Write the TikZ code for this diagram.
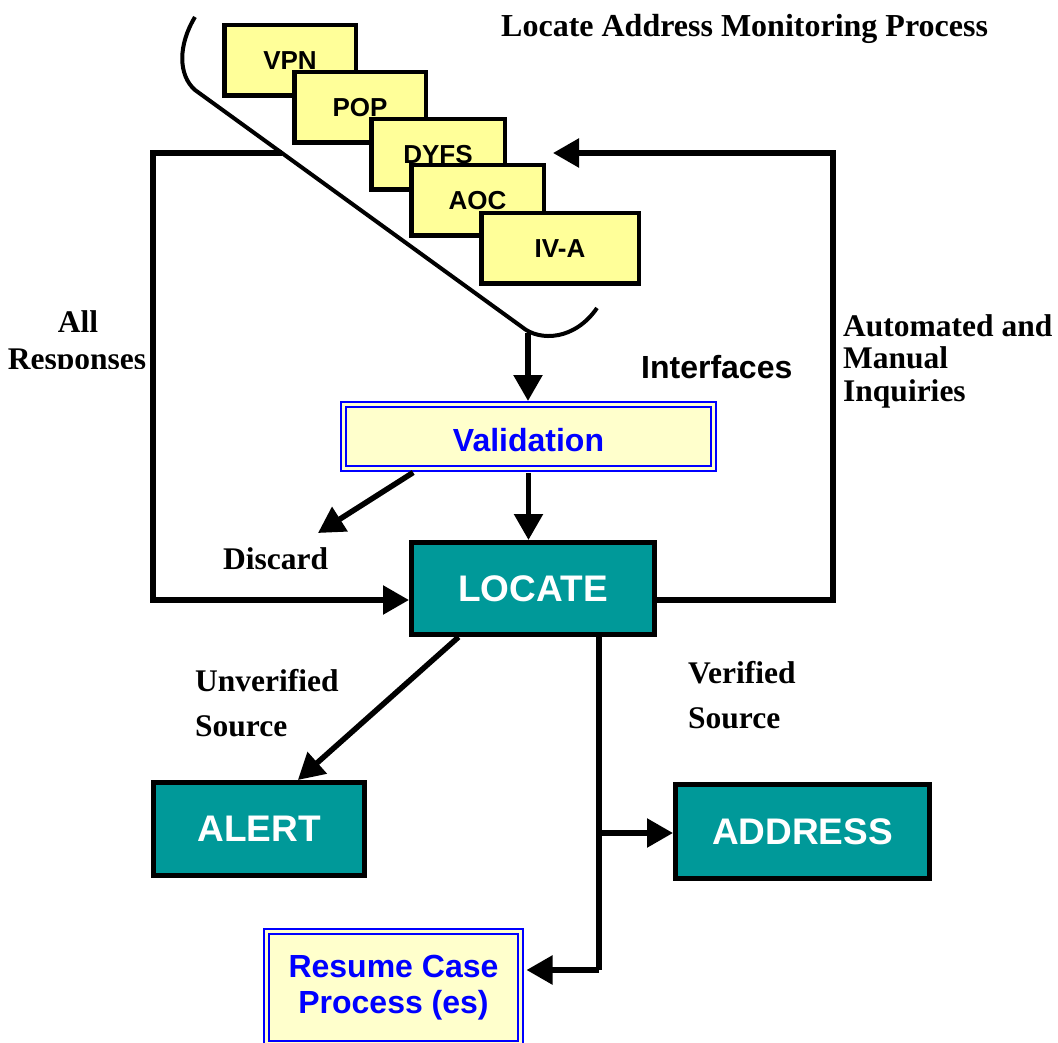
\documentclass[tikz,border=0pt]{standalone}
\usepackage{fontspec}
\setmainfont{Liberation Serif}
\newfontfamily\arialfam{Liberation Sans}
\usetikzlibrary{arrows.meta,calc}
\definecolor{stackyellow}{HTML}{FFFF99}
\definecolor{paleyellow}{HTML}{FFFFCC}
\definecolor{tealfill}{HTML}{009999}
\begin{document}
\begin{tikzpicture}[x=1pt,y=-1pt,
  stackbox/.style={draw, line width=4.5pt, fill=stackyellow, minimum height=70.5pt,
    inner sep=0pt, font=\arialfam\bfseries\fontsize{26}{30}\selectfont},
  tealbox/.style={draw, line width=5pt, fill=tealfill, text=white, inner sep=0pt,
    font=\arialfam\bfseries\fontsize{37}{40}\selectfont},
  framebox/.style={draw=blue, line width=2pt, double=paleyellow, double distance=3pt,
    fill=paleyellow, text=blue, inner sep=0pt, align=center,
    font=\arialfam\bfseries\fontsize{32}{36}\selectfont},
  lbl/.style={inner sep=0pt, font=\bfseries\fontsize{31.5}{35}\selectfont},
  sanslbl/.style={inner sep=0pt, font=\arialfam\bfseries\fontsize{32}{36}\selectfont},
  conn/.style={line width=5.5pt},
  arr/.style={conn, -{Triangle[length=26pt,width=28pt]}},
  bracket/.style={line width=4pt}]

\clip (0,0) rectangle (1058,1043);

% title
\node[lbl, font=\bfseries\fontsize{32}{36}\selectfont, anchor=base west] (title) at (501,37)
  {Locate Address Monitoring Process};

% stacked interface systems
\node[stackbox, minimum width=131.5pt] (vpn)  at (290,60.5)   {VPN};
\node[stackbox, minimum width=131.5pt] (pop)  at (360,107.5)  {POP};
\node[stackbox, minimum width=133.5pt] (dyfs) at (438,154.5)  {DYFS};
\node[stackbox, minimum width=132.5pt] (aoc)  at (477.5,200.5){AOC};
\node[stackbox, minimum width=157.5pt] (iva)  at (560,248.5)  {IV-A};

% process boxes
\node[framebox, minimum width=370pt, minimum height=64pt] (valid) at (528.5,436.5) {};
\node[framebox, draw=none, fill=none, double=none] (validtext) at (528.5,440.5) {Validation};
\node[tealbox, minimum width=243pt, minimum height=92pt] (locate) at (533,588.5) {LOCATE};
\node[tealbox, minimum width=211pt, minimum height=93pt] (alert) at (259,829) {ALERT};
\node[tealbox, minimum width=254pt, minimum height=94pt] (address) at (802.5,831.5) {ADDRESS};
\node[framebox, minimum width=254pt, minimum height=112pt] (resume) at (393.5,987.5)
  {Resume Case\\Process (es)};

% helper points of the connectors
\coordinate (resp) at (282,153);
\coordinate (lcorner) at (153,153);
\coordinate (rcorner) at (833,153);
\coordinate (inqtip) at (553,153);
\coordinate (ifc) at (528,333);
\coordinate (discardtip) at (318,533);
\coordinate (split) at (599,833);
\coordinate (turn) at (599,970);

% feedback loops
\draw[arr] (resp) -- (lcorner) |- ([yshift=-11.5pt]locate.west);
\draw[arr] ([yshift=-11.5pt]locate.east) -| (rcorner) -- (inqtip);

% interface bracket
\draw[bracket] (195,17) .. controls (178,45) and (178,75) .. (195,90)
  -- (522,327) .. controls (540,342) and (575,340) .. (597,308);

% main flow
\draw[arr] (ifc) -- ($(ifc |- valid.north)+(0,-2.5)$);
\draw[arr] ([yshift=-3pt]valid.south) -- (valid.south |- locate.north);
\draw[arr] ($($(valid.south west)!0.19!(valid.south east)$)+(0,3)$) -- (discardtip);
\draw[arr] ($(locate.south west)!0.2!(locate.south east)$)
  -- ($(alert.north west)!0.68!(alert.north east)$);
\draw[conn] (locate.south -| turn) -- (turn);
\draw[arr] (turn) -- ($(resume.east |- turn)+(5,0)$);
\draw[arr] (split) -- (split -| address.west);

% labels
\node[lbl, anchor=base] (allr) at (78,332) {All};
\begin{scope}
  \clip (0,300) rectangle (200,368);
  \node[lbl, anchor=base] (responses) at (77,369) {Responses};
\end{scope}
\node[lbl, anchor=base west] (auto1) at (843,336) {Automated and};
\node[lbl, anchor=base west] (auto2) at (843,368) {Manual};
\node[lbl, anchor=base west] (auto3) at (843,401) {Inquiries};
\node[sanslbl, anchor=base west] (interfaces) at (641,378) {Interfaces};
\node[lbl, anchor=base west] (discard) at (223,569) {Discard};
\node[lbl, anchor=base west] (unver1) at (195,691) {Unverified};
\node[lbl, anchor=base west] (unver2) at (195,736) {Source};
\node[lbl, anchor=base west] (ver1) at (688,683) {Verified};
\node[lbl, anchor=base west] (ver2) at (688,728) {Source};
\end{tikzpicture}
\end{document}
